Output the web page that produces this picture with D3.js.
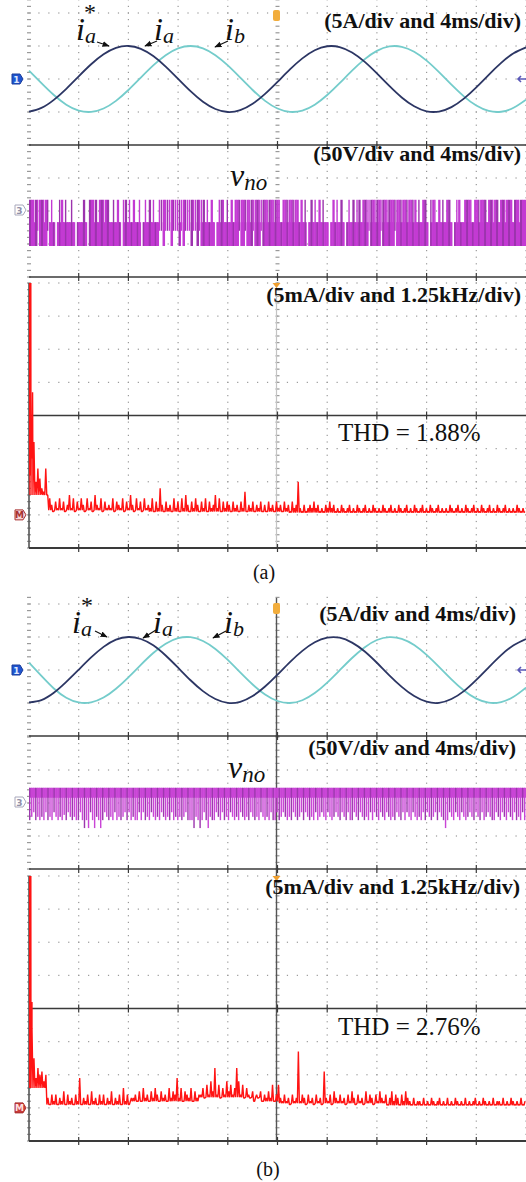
<!DOCTYPE html>
<html><head><meta charset="utf-8">
<script src="https://cdn.jsdelivr.net/npm/d3@7/dist/d3.min.js"></script>
<style>html,body{margin:0;padding:0;background:#fff;}svg{display:block;}</style>
</head><body>
<svg id="chart" width="526" height="1182"></svg>
<script>
// ---------------- DATA ----------------
// time axis of the current / voltage traces (ms), 4 ms/div, 10 div
const timeMs = [0,1,2,3,4,5,6,7,8,9,10,11,12,13,14,15,16,17,18,19,20,21,22,23,24,25,26,27,28,29,30,31,32,33,34,35,36,37,38,39,40];
// phase currents (A) (5 A/div)
const iaA = [-4.96,-4.38,-3.16,-1.49,0.40,2.23,3.74,4.71,5.00,4.56,3.47,1.88,0.02,-1.85,-3.45,-4.55,-5.00,-4.72,-3.76,-2.26,-0.44,1.45,3.13,4.36,4.96,4.84,4.02,2.63,0.85,-1.05,-2.80,-4.14,-4.89,-4.93,-4.26,-2.97,-1.26,0.64,2.44,3.89,4.78];
const ibA = [1.27,-0.63,-2.43,-3.89,-4.78,-4.98,-4.47,-3.31,-1.67,0.21,2.06,3.61,4.64,5.00,4.64,3.61,2.06,0.21,-1.67,-3.31,-4.47,-4.98,-4.78,-3.89,-2.43,-0.63,1.27,2.98,4.26,4.93,4.88,4.13,2.79,1.04,-0.86,-2.63,-4.03,-4.84,-4.96,-4.36,-3.13];
const iaB = [-4.90,-4.55,-3.45,-1.80,0.05,1.90,3.50,4.60,5.00,4.70,3.75,2.20,0.35,-1.55,-3.20,-4.40,-4.98,-4.82,-3.95,-2.50,-0.70,1.20,2.90,4.20,4.90,4.90,4.15,2.85,1.10,-0.80,-2.55,-3.95,-4.80,-4.98,-4.40,-3.20,-1.50,0.40,2.25,3.75,4.70];
const ibB = [1.10,-0.90,-2.80,-4.20,-4.92,-4.90,-4.18,-2.85,-1.12,0.78,2.57,3.98,4.82,4.97,4.39,3.19,1.52,-0.37,-2.20,-3.72,-4.70,-5.00,-4.58,-3.50,-1.91,-0.05,1.82,3.42,4.54,4.99,4.73,3.79,2.29,0.47,-1.42,-3.11,-4.34,-4.95,-4.85,-4.05,-2.66];

// common-mode voltage v_no: one code per ~2 px column (upper case = wide block, o = gap), levels in V (50 V/div)
const vnoA = ["FFfFhFFfFh","lflolfFlfllflol","llFlo","FFfFlFFfFFl","lflFlofFlflFllfolflFlfll",
  "hhFhhhFhhhfhFhhhFhhFh","fFlflFlolfFflflFl","FFhFFhFfFhFFfhF","FfFFfFFflFFfFFfFF",
  "lFlfolFlflFlfllolFlflFlolflFlfFl","FFfhFFfFFhFFfFFFhFFfFFfFF","fFlflFFlofFflFlflFFlolfFll",
  "FFFflFFfFFFlFFfFFlFFfFFFlFFfFFF"].join("");
const vnoLevelsA = {f:[-53,17], l:[-53,-17], h:[-30,17]};
const vnoBandA = [-53,-17];
const vnoB = ["fglfgfgflfgflgfgfhflgfgffl","fdfdlfdgfd","flgfgflfgfglflfgfflflfgflgfgflgfgflfgfgfglff",
  "fdgfdflfdgf","flgflfgflgfgflgfgflgfgflgfgflffl","fglgfgflgfglflgfgflfglgflgfglgflgflf",
  "flgflgfgflflgflgflgfgflgflflgflgfgflflg","fglflgfdflgflgflgfglgflgflfglgfflgflgflgflfgflf"].join("");
const vnoLevelsB = {f:[-26,23], g:[-21,23], l:[-14,23], d:[-38,23], h:[-18,23]};
const vnoBandB = [8,23];

// spectra: one base-36 digit per 0.05 kHz bin, unit 0.5 mA (5 mA/div, 1.25 kHz/div)
const specA = ["khmaeb87e65","314252413625142531524163251423","251432514263152415232514283142",
  "315241526314253142514236251424","31423142713241324131423142314231423","a",
  "213123242312132423121321231213212312132","1213212312132123121321231213212312121321231213212312132123121321231212132121"].join("");
const spikesA = [[0.015,40],[0.03,6],[0.045,40],[0.06,14],[0.09,18.5]];
// noise floor of the spectrum band: [fromKHz, toKHz, mA]
const floorA = [[0,0.45,3.0],[0.45,3.0,0.7],[3.0,6.5,0.5],[6.5,12.5,0.35]];
const specB = ["8of9cab8a","3142413251423142913241523142413251324162413","3425263425364253426354936254362534",
  "4637485c4736485746c847364","352435243537247","324231423","h","243142314231","b",
  "324153242314253142315243142532413524314253","21312213121321231213121321213121231213212131221312132121312"].join("");
const spikesB = [[0.015,40],[0.03,3],[0.045,40],[0.06,8],[0.075,16]];
const floorB = [[0,0.45,3.0],[0.45,2.5,0.5],[2.5,4.3,1.0],[4.3,5.9,1.6],[5.9,6.3,1.0],[6.3,9.0,0.7],[9.0,12.5,0.4]];

// text
const unitLabelsA = ["(5A/div and 4ms/div)","(50V/div and 4ms/div)","(5mA/div and 1.25kHz/div)"];
const unitLabelsB = ["(5A/div and 4ms/div)","(50V/div and 4ms/div)","(5mA/div and 1.25kHz/div)"];
const thdLabels = ["THD = 1.88%","THD = 2.76%"];
const captions = ["(a)","(b)"];

// ---------------- DRAW ----------------
const svg = d3.select("#chart");
const SERIF = "'Liberation Serif','Times New Roman',Times,serif";
const X0 = 29, X1 = 526;
const xT = d3.scaleLinear().domain([0,40]).range([X0,X1]);
const xF = d3.scaleLinear().domain([0,12.5]).range([X0,X1]);
const majorT = d3.range(0,40.001,4);
const minorT = d3.range(0,40.001,0.8);
const DOT = "#999", SOLID = "#3a3a3a";

const defs = svg.append("defs");
defs.append("marker").attr("id","ah").attr("viewBox","0 0 10 10").attr("refX",9).attr("refY",5)
  .attr("markerWidth",6).attr("markerHeight",6).attr("orient","auto")
  .append("path").attr("d","M0,1 L10,5 L0,9 z").attr("fill","#111");

function grid(g, y, lo, hi, minor, rows, yTop, yBot) {
  const mvals = d3.range(lo, hi + 1e-6, minor).filter(v => y(v) >= yTop - 0.5 && y(v) <= yBot + 0.5);
  majorT.forEach((t,k) => {
    const x = xT(t);
    const dash = (k === 0 || k === 5);
    g.selectAll(null).data(mvals).join("rect")
      .attr("x", dash ? x - 2 : x - 0.6).attr("y", v => y(v) - 0.6)
      .attr("width", dash ? 4 : 1.2).attr("height", 1.2).attr("fill", DOT);
  });
  rows.forEach(r => {
    g.selectAll(null).data(minorT).join("rect")
      .attr("x", t => xT(t) - 0.6).attr("y", y(r) - 0.6)
      .attr("width", 1.2).attr("height", 1.2).attr("fill", DOT);
  });
}
function hline(g, yy, w) {
  g.append("line").attr("x1",X0).attr("x2",X1).attr("y1",yy).attr("y2",yy)
    .attr("stroke",SOLID).attr("stroke-width",w||1.6);
  majorT.slice(1,10).forEach(t => {
    g.append("line").attr("x1",xT(t)).attr("x2",xT(t)).attr("y1",yy-4).attr("y2",yy+4)
      .attr("stroke",SOLID).attr("stroke-width",1.2);
  });
}
function chanMarker(g, x, yy, fill, stroke, txt, txtFill) {
  g.append("path").attr("d",`M${x},${yy-5} h8 l3,5 l-3,5 h-8 z`)
    .attr("fill",fill).attr("stroke",stroke).attr("stroke-width",1);
  g.append("text").attr("x",x+4.5).attr("y",yy+3.5).attr("text-anchor","middle")
    .attr("font-family","'DejaVu Sans',sans-serif").attr("font-size",9).attr("font-weight","bold")
    .attr("fill",txtFill).text(txt);
}
function trigTop(g, x, yy) {
  g.append("rect").attr("x",x-3.5).attr("y",yy).attr("width",7).attr("height",11).attr("rx",2)
    .attr("fill","#f2ad3c");
}
function trigTri(g, x, yy) {
  g.append("path").attr("d",`M${x-4},${yy} h8 l-4,5 z`).attr("fill","#f0a030");
}
function rightArrow(g, yy) {
  g.append("path").attr("d",`M526,${yy} L518,${yy} M521,${yy-3} L518,${yy} L521,${yy+3}`)
    .attr("stroke","#5a58b8").attr("stroke-width",1.6).attr("fill","none");
}
function currents(g, y, ia, ib) {
  const line = d3.line().x((d,i) => xT(timeMs[i])).y(d => y(d)).curve(d3.curveNatural);
  g.append("path").attr("d", line(ib)).attr("fill","none").attr("stroke","#74cccb").attr("stroke-width",1.8);
  g.append("path").attr("d", line(ia)).attr("fill","none").attr("stroke","#2c3664").attr("stroke-width",1.8);
}
function pwm(g, y, codes, levels, band, color, dark) {
  const N = codes.length, dt = 40 / N, w = xT(dt) - xT(0);
  const arr = codes.split("").map((c,i) => ({c: c.toLowerCase(), wide: c !== c.toLowerCase(), i}))
    .filter(d => d.c !== "o");
  g.selectAll(null).data(arr.filter(d => d.c !== "h" || band[0] > 0)).join("rect")
    .attr("x", d => xT(d.i*dt)).attr("y", y(band[1]))
    .attr("width", w + 0.3).attr("height", y(band[0]) - y(band[1]))
    .attr("fill", color);
  g.selectAll(null).data(arr).join("rect")
    .attr("x", d => xT(d.i*dt)).attr("y", d => y(levels[d.c][1]))
    .attr("width", d => d.wide ? w + 0.3 : w*0.7).attr("height", d => y(levels[d.c][0]) - y(levels[d.c][1]))
    .attr("fill", d => (d.i % 3 === 0) ? dark : color);
}
function floorAt(fl, f) {
  const seg = fl.find(s => f >= s[0] && f < s[1]);
  return seg ? seg[2] : fl[fl.length-1][2];
}
function spectrum(g, y, str, spikes, fl, yTop, yBot, id) {
  const N = str.length, df = 12.5 / N;
  const pts = [];
  str.split("").forEach((c,i) => {
    const pk = parseInt(c,36)*0.5;
    pts.push({f: i*df, v: Math.min(pk, floorAt(fl, i*df))});
    pts.push({f: (i+0.5)*df, v: pk});
  });
  spikes.forEach(([f,v]) => pts.push({f, v}));
  pts.sort((a,b) => a.f - b.f);
  defs.append("clipPath").attr("id", id).append("rect")
    .attr("x", X0).attr("y", yTop).attr("width", X1 - X0).attr("height", yBot - yTop);
  const line = d3.line().x(d => xF(d.f)).y(d => y(d.v));
  g.append("path").attr("d", line(pts)).attr("clip-path", `url(#${id})`)
    .attr("fill","none").attr("stroke","#ff1414").attr("stroke-width",1.4).attr("stroke-linejoin","bevel");
}
function unitText(g, x, yy, txt) {
  g.append("text").attr("x",x).attr("y",yy).attr("text-anchor","end")
    .attr("font-family",SERIF).attr("font-weight","bold").attr("font-size",22).attr("fill","#111").text(txt);
}
function subLabel(g, x, yy, main, sub, mainSize, subSize, dy) {
  const t = g.append("text").attr("x",x).attr("y",yy).attr("font-family",SERIF)
    .attr("font-style","italic").attr("fill","#111").attr("font-size",mainSize);
  t.append("tspan").text(main);
  t.append("tspan").attr("font-size",subSize).attr("dy",dy || 3).text(sub);
}
function arrow(g, p) {
  g.append("line").attr("x1",p[0][0]).attr("y1",p[0][1]).attr("x2",p[1][0]).attr("y2",p[1][1])
    .attr("stroke","#111").attr("stroke-width",1.2).attr("marker-end","url(#ah)");
}

function figure(cfg) {
  const g = svg.append("g");
  const y1 = d3.scaleLinear().domain([-10,10]).range([cfg.c0 + 66, cfg.c0 - 66]);
  const y2 = d3.scaleLinear().domain([-100,100]).range([cfg.v0 + 66, cfg.v0 - 66]);
  const y3 = d3.scaleLinear().domain([-5,35]).range([cfg.s0 + 33, cfg.s0 - 232]);
  grid(g, y1, -10, 13, 1, [-5,0,5,10], cfg.top, y1(-10));
  grid(g, y2, -100, 100, 10, [-50,0,50], y1(-10), y2(-100));
  grid(g, y3, -5, 35, 1, [0,5,10,20,25,30,35], y3(35), y3(-5));
  if (cfg.centerSolid) {
    g.append("line").attr("x1",xT(20)-1).attr("x2",xT(20)-1).attr("y1",cfg.top+5).attr("y2",y3(-5))
      .attr("stroke","#555").attr("stroke-width",1.4);
  } else {
    g.append("line").attr("x1",xT(20)-1).attr("x2",xT(20)-1).attr("y1",y3(35)).attr("y2",y3(-5))
      .attr("stroke","#c4c4c4").attr("stroke-width",1.2);
  }
  g.append("line").attr("x1",X0).attr("x2",X0).attr("y1",y3(35)).attr("y2",y3(-5))
    .attr("stroke","#555").attr("stroke-width",1.6);
  hline(g, y1(-10)); hline(g, y2(-100)); hline(g, y3(15)); hline(g, y3(-5), 1.8);
  currents(g, y1, cfg.ia, cfg.ib);
  pwm(g, y2, cfg.vno, cfg.levels, cfg.band, cfg.pwmColor, cfg.pwmDark);
  spectrum(g, y3, cfg.spec, cfg.spikes, cfg.floor, y3(35), y3(-5), cfg.id);
  chanMarker(g, 12, y1(0), "#1f55d0", "#1a3c9a", "1", "#dfe8ff");
  chanMarker(g, 15, y2(0) - 1, "#fff", "#a8a8bc", "3", "#9090a8");
  chanMarker(g, 15, y3(0), cfg.mFill, "#a83030", "M", cfg.mText);
  rightArrow(g, y1(0));
  trigTop(g, xT(20) - 1, cfg.top + 10);
  trigTri(g, xT(20) - 1, y3(35));
  unitText(g, cfg.ux[0], cfg.uy[0], cfg.units[0]);
  unitText(g, cfg.ux[1], cfg.uy[1], cfg.units[1]);
  unitText(g, cfg.ux[2], cfg.uy[2], cfg.units[2]);
  g.append("text").attr("x",338).attr("y",cfg.thdY).attr("font-family",SERIF).attr("font-size",25)
    .attr("fill","#111").text(cfg.thd);
  g.append("text").attr("x",cfg.capX).attr("y",cfg.capY).attr("text-anchor","middle")
    .attr("font-family",SERIF).attr("font-size",20).attr("fill","#111").text(cfg.cap);
  const L = cfg.lab;
  subLabel(g, L.ias[0], L.ias[1], "i", "a", 32, 22);
  g.append("text").attr("x",L.ast[0]).attr("y",L.ast[1]).attr("font-family",SERIF)
    .attr("font-size",24).attr("fill","#111").text("*");
  subLabel(g, L.ia[0], L.ia[1], "i", "a", 32, 22);
  subLabel(g, L.ib[0], L.ib[1], "i", "b", 32, 22);
  subLabel(g, L.v[0], L.v[1], "v", "no", 32, 23, 4);
  L.arrows.forEach(p => arrow(g, p));
}

figure({id:"clipA", top:0, c0:79, v0:211, s0:515, centerSolid:false,
  ia:iaA, ib:ibA, vno:vnoA, levels:vnoLevelsA, band:vnoBandA, spec:specA, spikes:spikesA, floor:floorA,
  pwmColor:"#c33ad3", pwmDark:"#9c34ad",
  mFill:"#f6d6d6", mText:"#a83030",
  units:unitLabelsA, ux:[521,521,521], uy:[28,161,302], thd:thdLabels[0], thdY:441,
  cap:captions[0], capX:264, capY:579,
  lab:{ias:[76,40], ast:[84,20], ia:[154,40], ib:[225,40], v:[230,186],
       arrows:[[[97,42],[109,46]],[[157,41],[145,46]],[[228,41],[215,47]]]}});
figure({id:"clipB", top:593, c0:670, v0:803, s0:1108, centerSolid:true,
  ia:iaB, ib:ibB, vno:vnoB, levels:vnoLevelsB, band:vnoBandB, spec:specB, spikes:spikesB, floor:floorB,
  pwmColor:"#c945d6", pwmDark:"#9d38ae",
  mFill:"#c83a3a", mText:"#ffe0e0",
  units:unitLabelsB, ux:[516,516,520], uy:[621,755,894], thd:thdLabels[1], thdY:1035,
  cap:captions[1], capX:268, capY:1176,
  lab:{ias:[72,633], ast:[81,613], ia:[153,633], ib:[224,633], v:[228,778],
       arrows:[[[95,631],[107,637]],[[156,630],[143,638]],[[226,631],[213,638]]]}});
</script>
</body></html>
